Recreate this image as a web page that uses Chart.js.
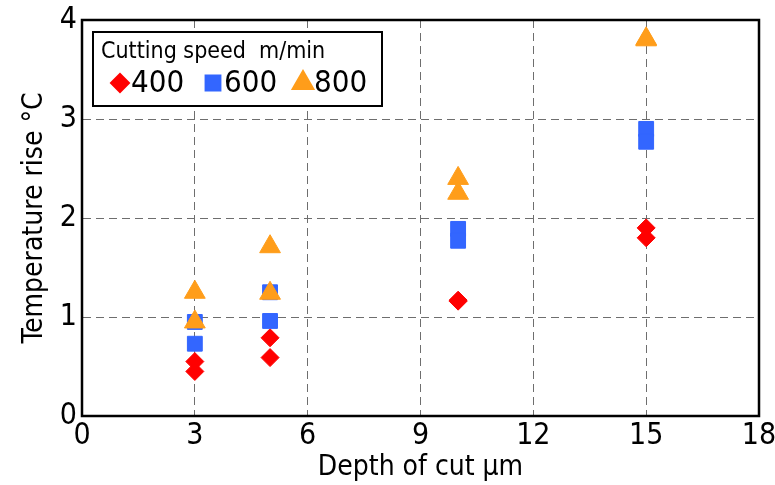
<!DOCTYPE html>
<html>
<head>
<meta charset="utf-8">
<script src="https://cdn.jsdelivr.net/npm/chart.js@4.4.1/dist/chart.umd.min.js"></script>
<style>
  html, body { margin: 0; padding: 0; background: #fff; }
  #wrap { width: 775px; height: 485px; }
</style>
</head>
<body>
<div id="wrap"><canvas id="tempChart"></canvas></div>
<script>
// Temperature rise vs depth of cut, three cutting speeds
const FONT = "'DejaVu Sans Condensed', 'DejaVu Sans', sans-serif";

const legendTitle = 'Cutting speed  m/min';
const speeds = ['400', '600', '800'];

const depth400 = [3, 3, 5, 5, 10, 10, 15, 15];
const temp400 = [0.55, 0.45, 0.79, 0.59, 1.17, 1.16, 1.90, 1.80];

const depth600 = [3, 3, 5, 5, 10, 10, 15, 15];
const temp600 = [0.95, 0.73, 1.25, 0.96, 1.89, 1.77, 2.90, 2.77];

const depth800 = [3, 3, 5, 5, 10, 10, 15, 15];
const temp800 = [1.25, 0.95, 1.71, 1.24, 2.40, 2.25, 3.81, 3.80];

const xTicks = [0, 3, 6, 9, 12, 15, 18];
const yTicks = [0, 1, 2, 3, 4];

const colors = ['#ff0000', '#3366ff', '#ff9d1a'];
const styles = ['rectRot', 'rect', 'triangle'];
const radii = [9, 10.5, 12];

function toPoints(xs, ys) {
  return xs.map((x, i) => ({ x: x, y: ys[i] }));
}

const series = [toPoints(depth400, temp400), toPoints(depth600, temp600), toPoints(depth800, temp800)];

// frame round the plot area and the boxed legend in its top-left corner
const frameAndLegend = {
  id: 'frameAndLegend',
  afterDatasetsDraw(chart) {
    const { ctx, chartArea: a } = chart;
    ctx.save();
    ctx.strokeStyle = '#000';
    ctx.lineWidth = 2.5;
    ctx.strokeRect(a.left, a.top, a.right - a.left, a.bottom - a.top);

    const bx = a.left + 11, by = a.top + 12, bw = 289, bh = 74;
    ctx.fillStyle = '#fff';
    ctx.fillRect(bx, by, bw, bh);
    ctx.lineWidth = 2;
    ctx.strokeRect(bx, by, bw, bh);

    ctx.fillStyle = '#000';
    ctx.textBaseline = 'alphabetic';
    ctx.textAlign = 'left';
    ctx.font = '23px ' + FONT;
    ctx.fillText(legendTitle, bx + 8, by + 26);

    const markX = [bx + 27, bx + 120, bx + 210];
    const rowY = by + 51;
    ctx.font = '31px ' + FONT;
    speeds.forEach((s, i) => {
      ctx.fillStyle = colors[i];
      ctx.strokeStyle = colors[i];
      Chart.helpers.drawPoint(ctx, {
        pointStyle: styles[i], radius: radii[i], rotation: 0, borderWidth: 1
      }, markX[i], rowY);
      ctx.fillStyle = '#000';
      ctx.textBaseline = 'middle';
      ctx.fillText(s, markX[i] + 11, rowY + 1);
    });
    ctx.restore();
  }
};

new Chart(document.getElementById('tempChart'), {
  type: 'scatter',
  data: {
    datasets: speeds.map((s, i) => ({
      label: s,
      data: series[i],
      pointStyle: styles[i],
      pointRadius: radii[i],
      backgroundColor: colors[i],
      borderColor: colors[i],
      borderWidth: 1,
      order: 2 - i
    }))
  },
  options: {
    responsive: true,
    maintainAspectRatio: false,
    animation: false,
    events: [],
    layout: { padding: { top: 20, right: 16, left: 0, bottom: 0 } },
    plugins: {
      legend: { display: false },
      tooltip: { enabled: false }
    },
    scales: {
      x: {
        type: 'linear',
        min: 0,
        max: 18,
        afterBuildTicks: (scale) => { scale.ticks = xTicks.map(v => ({ value: v })); },
        afterFit: (scale) => { scale.height = 69; scale.paddingLeft = 0; scale.paddingRight = 0; },
        ticks: { color: '#000', font: { family: FONT, size: 30 }, padding: 2, maxRotation: 0 },
        grid: { color: '#6e6e6e', lineWidth: 1, drawTicks: false },
        border: { display: true, color: '#000', width: 2, dash: [8, 5] },
        title: { display: true, text: 'Depth of cut μm', color: '#000', font: { family: FONT, size: 28 }, padding: 0 }
      },
      y: {
        min: 0,
        max: 4,
        afterBuildTicks: (scale) => { scale.ticks = yTicks.map(v => ({ value: v })); },
        afterFit: (scale) => { scale.width = 82; scale.paddingTop = 0; scale.paddingBottom = 0; },
        ticks: { color: '#000', font: { family: FONT, size: 30 }, padding: 5 },
        grid: { color: '#6e6e6e', lineWidth: 1, drawTicks: false },
        border: { display: true, color: '#000', width: 2, dash: [8, 5] },
        title: { display: true, text: 'Temperature rise °C', color: '#000', font: { family: FONT, size: 28 }, padding: { top: 18, bottom: 0 } }
      }
    }
  },
  plugins: [frameAndLegend]
});
</script>
</body>
</html>
